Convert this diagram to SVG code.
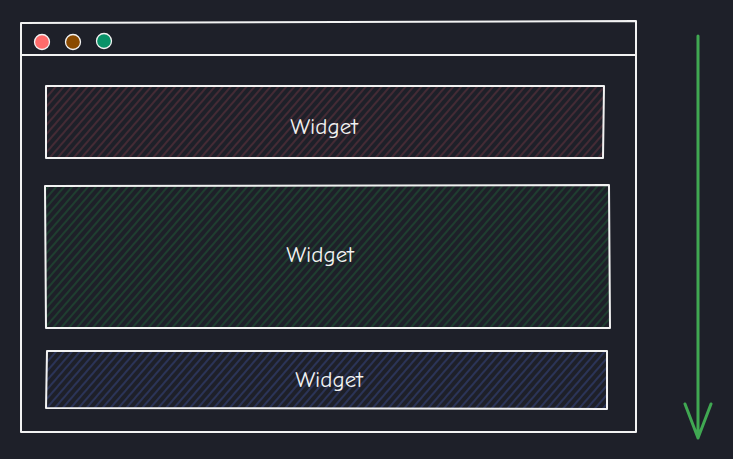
<svg xmlns="http://www.w3.org/2000/svg" width="733" height="459" viewBox="0 0 733 459">
<defs>
<style>
.frame{fill:none;stroke:#f2f2f2;stroke-width:2;stroke-linecap:round;stroke-linejoin:round}
.lbl{font-family:"Comic Neue","Liberation Sans",sans-serif;font-size:23px;fill:#f2f2f2;text-anchor:middle;dominant-baseline:central}
</style>
<pattern id="hRed" patternUnits="userSpaceOnUse" width="6" height="6" patternTransform="rotate(-49)">
<line x1="0" y1="3" x2="6" y2="3" stroke="#8a3d4a" stroke-width="1" stroke-opacity="0.7"/>
</pattern>
<pattern id="hGreen" patternUnits="userSpaceOnUse" width="6" height="6" patternTransform="rotate(-49)">
<line x1="0" y1="3" x2="6" y2="3" stroke="#1f6a3a" stroke-width="1" stroke-opacity="0.8"/>
</pattern>
<pattern id="hBlue" patternUnits="userSpaceOnUse" width="6" height="6" patternTransform="rotate(-49)">
<line x1="0" y1="3" x2="6" y2="3" stroke="#3d4f95" stroke-width="1" stroke-opacity="0.85"/>
</pattern>
</defs>
<rect x="0" y="0" width="733" height="459" fill="#1e2029"/>
<g id="window">
<path class="frame" d="M21 23 L636 21 L636 432 L21 432 Z"/>
<path class="frame" d="M22 55 L635 55"/>
<circle cx="42" cy="42" r="7.5" fill="#ff6b6b" stroke="#f2f2f2" stroke-width="1.3"/>
<circle cx="73" cy="42" r="7.5" fill="#8a4a00" stroke="#f2f2f2" stroke-width="1.3"/>
<circle cx="104" cy="41" r="7.5" fill="#099268" stroke="#f2f2f2" stroke-width="1.3"/>
</g>
<g id="widget1">
<rect x="46" y="86" width="558" height="72" fill="url(#hRed)"/>
<path class="frame" d="M46 86 L604 86 L603 158 L46 158 Z"/>
<text class="lbl" x="324" y="126">Widget</text>
</g>
<g id="widget2">
<rect x="45" y="185" width="565" height="143" fill="url(#hGreen)"/>
<path class="frame" d="M45 186 L609 185 L610 328 L46 328 Z"/>
<text class="lbl" x="320" y="254">Widget</text>
</g>
<g id="widget3">
<rect x="46" y="351" width="561" height="58" fill="url(#hBlue)"/>
<path class="frame" d="M47 351 L607 351 L607 409 L46 408 Z"/>
<text class="lbl" x="329" y="379">Widget</text>
</g>
<g id="connectors">
<path d="M698 36 L698 438 M685 404 L698 438 L711 404" fill="none" stroke="#40a852" stroke-width="3" stroke-linecap="round" stroke-linejoin="round"/>
</g>
</svg>
